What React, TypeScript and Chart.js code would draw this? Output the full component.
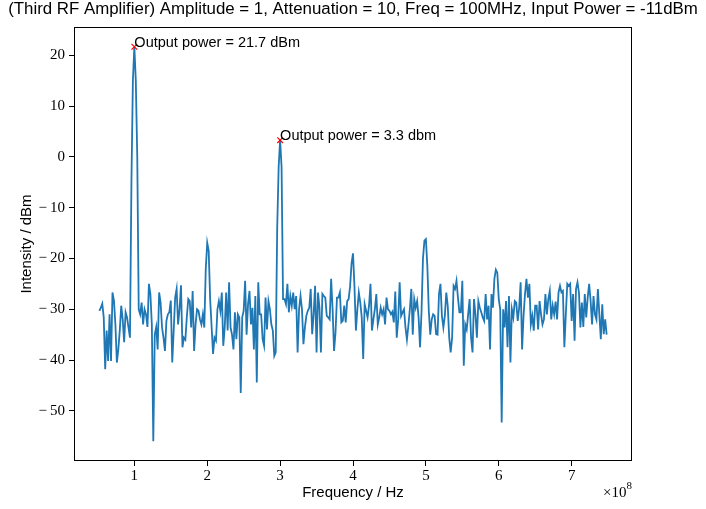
import React, { useEffect, useRef } from 'react';
import { Chart, registerables } from 'chart.js';

Chart.register(...registerables);

// sampling grid of the spectrum (Hz)
const freqStart = 0.52e8;
const freqStep = 2e6;

// measured intensity (dBm), one value per frequency step
const powerDbm = [
  -30.3, -29.7, -28.9, -31.6, -41.8, -34.2, -40.2, -31, -40.2, -26.7,
  -28.3, -33, -40.5, -37.9, -34.2, -29.3, -32, -36.5, -30.6, -31.6,
  -33.6, -35.6, -5, 15, 21.7, 15, 0, -30, -31, -28.7,
  -33, -30, -31, -33.5, -25, -27, -33, -56, -35, -33.5,
  -37.9, -26.7, -28.7, -33.6, -35.6, -38.2, -32.3, -31, -30.6, -28.3,
  -40.5, -34.2, -27.7, -26, -33, -30, -25.3, -37.5, -35.6, -36,
  -31.5, -28, -28.4, -33.6, -26.4, -38.2, -33, -30, -30.3, -32,
  -33, -31, -33.6, -22, -16.9, -18.5, -28, -33.4, -38.8, -35.6,
  -36.2, -30, -28.4, -30.3, -26.7, -37.2, -33.6, -26.7, -34.2, -24.7,
  -33.6, -35, -37.9, -30.6, -35.9, -31, -31.6, -46.5, -31.6, -30.3,
  -24.4, -35, -29, -26.4, -33, -29.7, -37.9, -27.4, -44.4, -24.7,
  -31, -31, -35.9, -37.2, -27.7, -34, -28.4, -30, -33, -34.2,
  -39.2, -38.5, -14, -2, 3.3, -2, -28, -28, -29, -25,
  -30.6, -27.4, -29.3, -26.7, -30, -27.4, -38.5, -30, -27.4, -30,
  -36.9, -33.6, -31.3, -30.3, -29.7, -26, -34.9, -31, -25.4, -38.5,
  -26.7, -29.7, -38.5, -27, -27.4, -27.7, -31.3, -31.6, -32, -24,
  -30, -38.2, -34.6, -27.7, -27.7, -26.7, -32.6, -32.3, -29.3, -32.6,
  -28.4, -28, -25.5, -21, -19, -25.5, -34.2, -30, -26.7, -28.7,
  -31.6, -39.8, -29, -30.3, -31.6, -29.3, -25, -34.2, -32, -30,
  -27, -33, -31.6, -29.7, -31, -30, -33, -27.7, -30, -30.3,
  -31, -30.5, -32.6, -26.5, -35.6, -32, -24.7, -31.3, -30.6, -30,
  -33.6, -36, -33.2, -30, -26, -35, -28, -29.7, -28.4, -31.6,
  -37.5, -30.6, -20, -16.5, -16.2, -21.5, -30.3, -35, -32, -31,
  -31.3, -34.9, -35, -27, -25, -31.3, -33.6, -31.3, -26.7, -29.3,
  -35.6, -38.5, -35.6, -25.4, -26, -24.4, -27.7, -30.6, -30.6, -24.4,
  -41.1, -33, -34, -31, -28, -35.6, -38.5, -28, -31, -35.6,
  -28.4, -29.7, -30.6, -31.6, -32.3, -27, -32, -29.3, -37.9, -27,
  -29.7, -24, -22.2, -22.8, -28, -30, -52.3, -30, -33.6, -28.4,
  -37.5, -27.4, -40.5, -30, -31.6, -28.4, -28.7, -32.3, -29.7, -24.7,
  -37.9, -31.3, -27, -24, -27.7, -25, -33, -31.3, -34.2, -29.3,
  -29.3, -34, -28.4, -31, -33, -32, -27, -31, -28, -26.4,
  -32, -29.3, -31, -28.5, -32, -26.7, -25.4, -26.7, -26.4, -37.5,
  -31, -25, -25.4, -25, -32.3, -27, -36.2, -26, -24.7, -26.7,
  -33.6, -28.7, -33.5, -27, -31.6, -27.7, -25, -28.3, -33, -27.4,
  -31, -32, -26, -31, -35.9, -29, -34.9, -32, -35,
];

// marked peaks
const peakFreqs = [1e8, 3e8];
const peakPowers = [21.7, 3.3];
const peakLabels = ['Output power = 21.7 dBm', 'Output power = 3.3 dbm'];

// axis ticks (x in units of 1e8 Hz)
const xTicks = [1, 2, 3, 4, 5, 6, 7];
const yTicks = [-50, -40, -30, -20, -10, 0, 10, 20];

const titleText =
  '(Third RF Amplifier) Amplitude = 1, Attenuation = 10, Freq = 100MHz, Input Power = -11dBm';

const SANS = '"Liberation Sans", "DejaVu Sans", sans-serif';
const SERIF = '"Liberation Serif", "DejaVu Serif", serif';

const overlayPlugin = {
  id: 'overlay',
  afterDatasetsDraw(chart: any) {
    const { ctx, chartArea, scales } = chart;
    ctx.save();

    // axes frame
    ctx.strokeStyle = '#000';
    ctx.lineWidth = 1;
    ctx.strokeRect(
      Math.round(chartArea.left) + 0.5,
      Math.round(chartArea.top) + 0.5,
      Math.round(chartArea.right - chartArea.left) - 1,
      Math.round(chartArea.bottom - chartArea.top) - 1
    );

    // peak annotations
    ctx.fillStyle = '#000';
    ctx.font = `14.5px ${SANS}`;
    ctx.textAlign = 'left';
    ctx.textBaseline = 'alphabetic';
    peakFreqs.forEach((f, i) => {
      ctx.fillText(peakLabels[i], scales.x.getPixelForValue(f), scales.y.getPixelForValue(peakPowers[i]));
    });

    // title, fitted to the axes width
    ctx.font = `16px ${SANS}`;
    const w = ctx.measureText(titleText).width;
    const size = (16 * 690) / w;
    ctx.font = `${size.toFixed(2)}px ${SANS}`;
    ctx.textAlign = 'center';
    ctx.fillText(titleText, (chartArea.left + chartArea.right) / 2, 14);

    // x offset text: x10^8
    ctx.textAlign = 'right';
    ctx.font = `11px ${SERIF}`;
    const supW = ctx.measureText('8').width;
    ctx.fillText('8', chartArea.right, 489);
    ctx.font = `15px ${SERIF}`;
    ctx.fillText('\u00d710', chartArea.right - supW, 497);

    ctx.restore();
  },
};

const App: React.FC = () => {
  const canvasRef = useRef<HTMLCanvasElement>(null);
  const chartRef = useRef<Chart | null>(null);

  useEffect(() => {
    document.body.style.margin = '0';
    if (!canvasRef.current) return;
    if (chartRef.current) chartRef.current.destroy();

    const points = powerDbm.map((p, i) => ({ x: freqStart + i * freqStep, y: p }));
    const fMin = points[0].x;
    const fMax = points[points.length - 1].x;
    const pMin = Math.min(...powerDbm);
    const pMax = Math.max(...powerDbm);
    const xPad = 0.05 * (fMax - fMin);
    const yPad = 0.05 * (pMax - pMin);

    chartRef.current = new Chart(canvasRef.current, {
      type: 'line',
      data: {
        datasets: [
          {
            data: points,
            borderColor: '#1f77b4',
            borderWidth: 1.8,
            pointRadius: 0,
            tension: 0,
            order: 2,
          },
          {
            data: peakFreqs.map((f, i) => ({ x: f, y: peakPowers[i] })),
            showLine: false,
            pointStyle: 'crossRot',
            pointRadius: 4,
            borderColor: 'red',
            backgroundColor: 'red',
            pointBorderWidth: 1.2,
            order: 1,
          },
        ],
      },
      options: {
        animation: false,
        responsive: true,
        maintainAspectRatio: false,
        layout: { padding: { top: 27, right: 74, left: 0, bottom: 0 } },
        plugins: {
          legend: { display: false },
          tooltip: { enabled: false },
          title: { display: false },
        },
        scales: {
          x: {
            type: 'linear',
            min: fMin - xPad,
            max: fMax + xPad,
            afterBuildTicks: (scale: any) => {
              scale.ticks = xTicks.map((v) => ({ value: v * 1e8 }));
            },
            afterFit: (scale: any) => {
              scale.height = 48;
            },
            ticks: {
              color: '#000',
              padding: 1,
              maxRotation: 0,
              font: { family: SERIF, size: 15 },
              callback: (v: any) => String(Math.round(Number(v) / 1e8)),
            },
            grid: {
              drawOnChartArea: false,
              drawTicks: true,
              tickLength: 5,
              tickColor: '#000',
            },
            border: { display: false },
            title: {
              display: true,
              text: 'Frequency / Hz',
              color: '#000',
              font: { family: SANS, size: 15 },
              padding: { top: 0, bottom: 7 },
            },
          },
          y: {
            type: 'linear',
            min: pMin - yPad,
            max: pMax + yPad,
            afterBuildTicks: (scale: any) => {
              scale.ticks = yTicks.map((v) => ({ value: v }));
            },
            afterFit: (scale: any) => {
              scale.width = 74;
            },
            ticks: {
              color: '#000',
              padding: 4,
              font: { family: SERIF, size: 15 },
              callback: (v: any) =>
                Number(v) < 0 ? '\u2212\u2009' + Math.abs(Number(v)) : String(v),
            },
            grid: {
              drawOnChartArea: false,
              drawTicks: true,
              tickLength: 5,
              tickColor: '#000',
            },
            border: { display: false },
            title: {
              display: true,
              text: 'Intensity / dBm',
              color: '#000',
              font: { family: SANS, size: 15 },
              padding: { top: 18, bottom: 0 },
            },
          },
        },
      },
      plugins: [overlayPlugin],
    });

    return () => {
      if (chartRef.current) {
        chartRef.current.destroy();
        chartRef.current = null;
      }
    };
  }, []);

  return (
    <div style={{ width: 706, height: 509, position: 'relative', background: '#fff' }}>
      <canvas ref={canvasRef}></canvas>
    </div>
  );
};

export default App;
